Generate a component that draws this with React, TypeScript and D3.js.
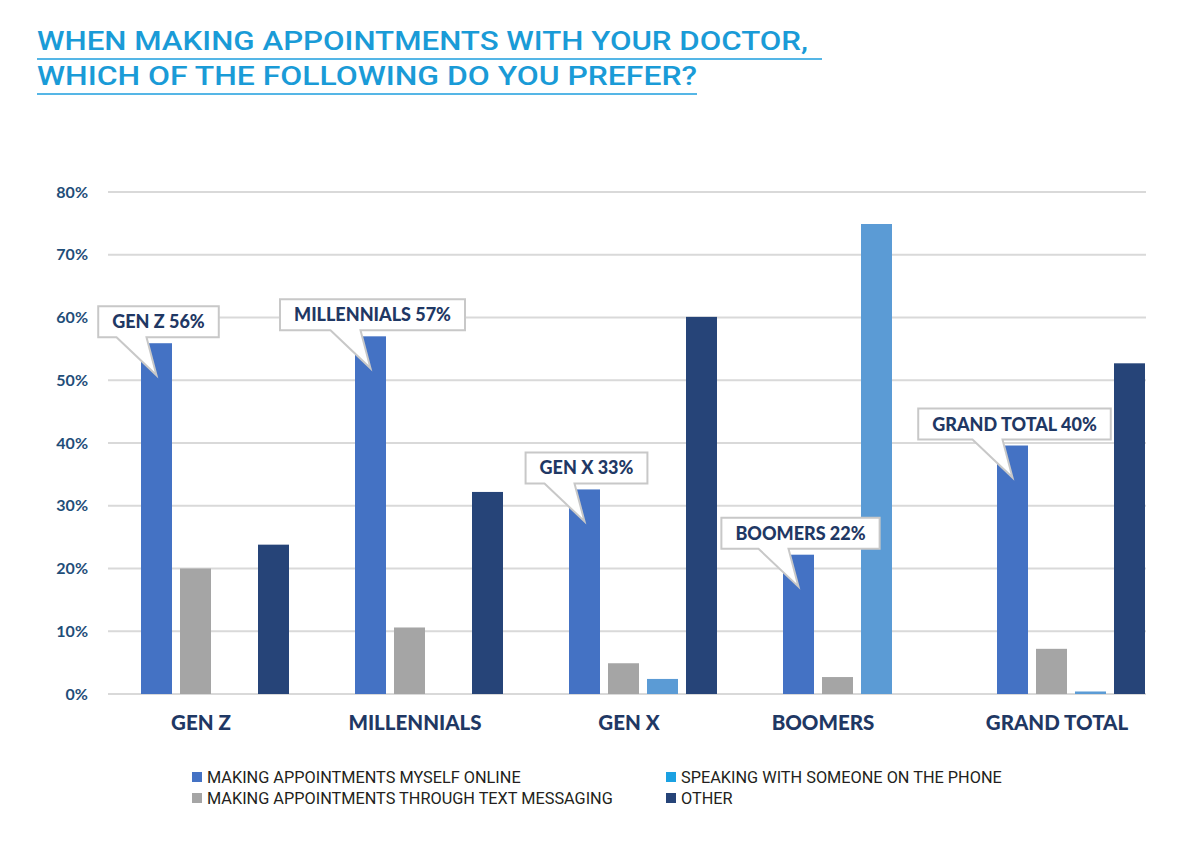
import { useEffect, useRef } from 'react';
import * as d3 from 'd3';

const titleLines = ['WHEN MAKING APPOINTMENTS WITH YOUR DOCTOR,', 'WHICH OF THE FOLLOWING DO YOU PREFER?'];

const categories = ['GEN Z', 'MILLENNIALS', 'GEN X', 'BOOMERS', 'GRAND TOTAL'];
const seriesNames = [
    'MAKING APPOINTMENTS MYSELF ONLINE',
    'MAKING APPOINTMENTS THROUGH TEXT MESSAGING',
    'SPEAKING WITH SOMEONE ON THE PHONE',
    'OTHER'
];

// values in percent, one array per series (same order as categories)
const online = [55.9, 57.0, 32.6, 22.2, 39.6];
const textMessaging = [20.0, 10.6, 4.9, 2.7, 7.2];
const phone = [0, 0, 2.4, 74.9, 0.4];
const other = [23.8, 32.2, 60.1, 0, 52.7];

const yTicks = [0, 10, 20, 30, 40, 50, 60, 70, 80];
const calloutLabels = ['GEN Z 56%', 'MILLENNIALS 57%', 'GEN X 33%', 'BOOMERS 22%', 'GRAND TOTAL 40%'];

const barColors = ['#4472c4', '#a5a5a5', '#5b9bd5', '#264478'];
const legendColors = ['#4472c4', '#a5a5a5', '#1ba1e2', '#264478'];

const W = 1200;
const H = 846;
const FONT = 'Lato, "Open Sans", sans-serif';

const App = () => {
    const svgRef = useRef<SVGSVGElement>(null);

    useEffect(() => {
        if (!svgRef.current) return;
        const svg = d3.select(svgRef.current);
        svg.selectAll('*').remove();

        // Title (condensed look: squeeze a larger font to the measured width)
        const title = svg.append('g');
        titleLines.forEach((line, i) => {
            title.append('text')
                .attr('x', 37)
                .attr('y', 50 + i * 35)
                .attr('fill', '#1a9bd7')
                .attr('textLength', i === 0 ? 771 : 660)
                .attr('lengthAdjust', 'spacingAndGlyphs')
                .style('font-family', 'Roboto, sans-serif')
                .style('font-weight', 500)
                .style('font-size', '25px')
                .text(line);
            title.append('line')
                .attr('x1', 37)
                .attr('x2', i === 0 ? 822 : 697)
                .attr('y1', 59 + i * 35)
                .attr('y2', 59 + i * 35)
                .attr('stroke', '#55b6e6')
                .attr('stroke-width', 2);
        });

        const plotLeft = 108;
        const plotRight = 1146;

        const y = d3.scaleLinear().domain([0, 80]).range([694, 192]);
        const x0 = d3.scaleBand<string>().domain(categories).range([108, 1178]);
        const groupWidth = 148;
        const x1 = d3.scaleBand<string>()
            .domain(seriesNames)
            .range([0, groupWidth])
            .paddingInner(8 / 39);
        const groupOffset = (x0.bandwidth() - groupWidth) / 2;

        // Grid lines
        svg.append('g')
            .selectAll('line')
            .data(yTicks)
            .join('line')
            .attr('x1', plotLeft)
            .attr('x2', plotRight)
            .attr('y1', d => y(d))
            .attr('y2', d => y(d))
            .attr('stroke', '#d9d9d9')
            .attr('stroke-width', 2);

        // Y labels
        svg.append('g')
            .selectAll('text')
            .data(yTicks)
            .join('text')
            .attr('x', 88)
            .attr('y', d => y(d) + 5.5)
            .attr('text-anchor', 'end')
            .attr('fill', '#1f4e79')
            .style('font-family', FONT)
            .style('font-weight', 700)
            .style('font-size', '16px')
            .text(d => `${d}%`);

        // Bars
        const seriesValues = [online, textMessaging, phone, other];
        const rows = categories.map((cat, ci) => ({
            cat,
            values: seriesNames.map((s, si) => ({ s, si, v: seriesValues[si][ci] }))
        }));

        const groups = svg.append('g')
            .selectAll('g')
            .data(rows)
            .join('g')
            .attr('transform', d => `translate(${(x0(d.cat) ?? 0) + groupOffset},0)`);

        groups.selectAll('rect')
            .data(d => d.values.filter(v => v.v > 0))
            .join('rect')
            .attr('x', d => x1(d.s) ?? 0)
            .attr('y', d => y(d.v))
            .attr('width', x1.bandwidth())
            .attr('height', d => y(0) - y(d.v))
            .attr('fill', d => barColors[d.si]);

        // Category labels
        svg.append('g')
            .selectAll('text')
            .data(categories)
            .join('text')
            .attr('x', (d, i) => (x0(d) ?? 0) + x0.bandwidth() / 2 - (i === 3 ? 34 : 14))
            .attr('y', 730)
            .attr('text-anchor', 'middle')
            .attr('fill', '#1f3864')
            .style('font-family', FONT)
            .style('font-weight', 900)
            .style('font-size', '20.5px')
            .text(d => d);

        // Callouts on the "online" bars
        const callouts = svg.append('g');
        categories.forEach((cat, i) => {
            const tipX = (x0(cat) ?? 0) + groupOffset + (x1(seriesNames[0]) ?? 0) + x1.bandwidth() / 2;
            const tipY = y(online[i]) + 32;
            const g = callouts.append('g');
            const path = g.append('path');
            const label = g.append('text')
                .attr('text-anchor', 'middle')
                .attr('fill', '#1f3864')
                .style('font-family', FONT)
                .style('font-weight', 900)
                .style('font-size', '18px')
                .text(calloutLabels[i]);
            const tw = (label.node() as SVGTextElement).getComputedTextLength();
            const bw = tw + 28;
            const bottom = tipY - 38;
            const top = bottom - 31;
            const cx = tipX + 2;
            const left = cx - bw / 2;
            const right = cx + bw / 2;
            const p = d3.path();
            p.moveTo(left, top);
            p.lineTo(right, top);
            p.lineTo(right, bottom);
            p.lineTo(tipX - 10, bottom);
            p.lineTo(tipX, tipY);
            p.lineTo(tipX - 40, bottom);
            p.lineTo(left, bottom);
            p.closePath();
            path.attr('d', p.toString())
                .attr('fill', '#ffffff')
                .attr('stroke', '#c8c8c8')
                .attr('stroke-width', 2)
                .attr('stroke-linejoin', 'miter');
            label.attr('x', cx).attr('y', (top + bottom) / 2 + 6.5);
        });

        // Legend
        const legend = svg.append('g');
        seriesNames.forEach((name, i) => {
            const col = i < 2 ? 0 : 1;
            const row = i % 2;
            const lx = col === 0 ? 192 : 666;
            const ly = 777 + row * 21;
            legend.append('rect')
                .attr('x', lx)
                .attr('y', ly - 5)
                .attr('width', 10)
                .attr('height', 10)
                .attr('fill', legendColors[i]);
            legend.append('text')
                .attr('x', lx + 15)
                .attr('y', ly + 6)
                .attr('fill', '#231f20')
                .style('font-family', 'Roboto, sans-serif')
                .style('font-size', '16.3px')
                .text(name);
        });
    }, []);

    return (
        <svg
            ref={svgRef}
            width={W}
            height={H}
            style={{ position: 'absolute', left: 0, top: 0, background: '#ffffff' }}
            role="img"
            aria-label="Bar chart of appointment booking preferences by generation"
        />
    );
};

export default App;
